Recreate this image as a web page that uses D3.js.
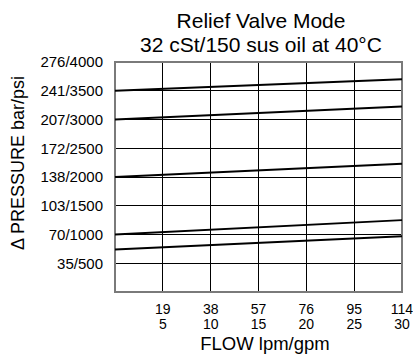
<!DOCTYPE html>
<html>
<head>
<meta charset="utf-8">
<script src="https://cdn.jsdelivr.net/npm/d3@7"></script>
<style>
  html, body { margin: 0; padding: 0; background: #fff; }
  svg { display: block; font-family: "Liberation Sans", Arial, sans-serif; }
</style>
</head>
<body>
<svg id="chart" width="413" height="356"></svg>
<script>
// Flow ticks (lpm on top row, gpm below)
const flowLpm = [19, 38, 57, 76, 95, 114];
const flowGpm = [5, 10, 15, 20, 25, 30];
// Pressure ticks (bar / psi)
const pressBar = [35, 70, 103, 138, 172, 207, 241, 276];
const pressPsi = [500, 1000, 1500, 2000, 2500, 3000, 3500, 4000];
// Relief settings: pressure (psi) at zero flow and at 114 lpm
const curveFlow = [0, 114];
const curveStart = [3500, 3000, 2000, 1000, 740];
const curveEnd = [3700, 3225, 2230, 1250, 970];

const W = 413, H = 356;
const margin = { top: 62, right: 11, bottom: 64, left: 115 };
const svg = d3.select("#chart");

const x = d3.scaleLinear().domain([0, 114]).range([margin.left, W - margin.right]);
const y = d3.scaleLinear().domain([0, 4000]).range([H - margin.bottom, margin.top]);

// Grid
const grid = svg.append("g").attr("stroke", "#000").attr("stroke-width", 1).attr("shape-rendering", "crispEdges");
grid.selectAll("line.v").data(flowLpm.slice(0, -1)).join("line")
  .attr("x1", d => x(d)).attr("x2", d => x(d))
  .attr("y1", y(0)).attr("y2", y(4000));
grid.selectAll("line.h").data(pressPsi.slice(0, -1)).join("line")
  .attr("x1", x(0)).attr("x2", x(114))
  .attr("y1", d => y(d)).attr("y2", d => y(d));

// Frame
svg.append("rect")
  .attr("x", x(0)).attr("y", y(4000))
  .attr("width", x(114) - x(0)).attr("height", y(0) - y(4000))
  .attr("fill", "none").attr("stroke", "#7a7a7a").attr("stroke-width", 2);

// Curves
const line = d3.line().x(d => x(d[0])).y(d => y(d[1]));
svg.append("g").selectAll("path").data(curveStart.map((s, i) => [[curveFlow[0], s], [curveFlow[1], curveEnd[i]]]))
  .join("path")
  .attr("d", line)
  .attr("fill", "none").attr("stroke", "#000").attr("stroke-width", 2);

// Y tick labels
svg.append("g").selectAll("text").data(pressPsi).join("text")
  .attr("x", 103).attr("y", d => y(d)).attr("dy", "0.35em")
  .attr("text-anchor", "end").attr("font-size", 15)
  .text((d, i) => pressBar[i] + "/" + d);

// X tick labels (two rows)
const xl = svg.append("g").attr("text-anchor", "middle").attr("font-size", 14);
xl.selectAll("text.a").data(flowLpm).join("text")
  .attr("x", d => x(d)).attr("y", 314).text(d => d);
xl.selectAll("text.b").data(flowGpm).join("text")
  .attr("x", (d, i) => x(flowLpm[i])).attr("y", 329).text(d => d);

// Axis titles
svg.append("text").attr("x", 265).attr("y", 350).attr("text-anchor", "middle")
  .attr("font-size", 18.5).text("FLOW lpm/gpm");
svg.append("text").attr("transform", "translate(24,163) rotate(-90)")
  .attr("text-anchor", "middle").attr("font-size", 18).text("Δ PRESSURE bar/psi");

// Title
svg.append("text").attr("x", 261).attr("y", 28).attr("text-anchor", "middle")
  .attr("font-size", 21).text("Relief Valve Mode");
svg.append("text").attr("x", 261).attr("y", 52).attr("text-anchor", "middle")
  .attr("font-size", 21).text("32 cSt/150 sus oil at 40°C");
</script>
</body>
</html>
